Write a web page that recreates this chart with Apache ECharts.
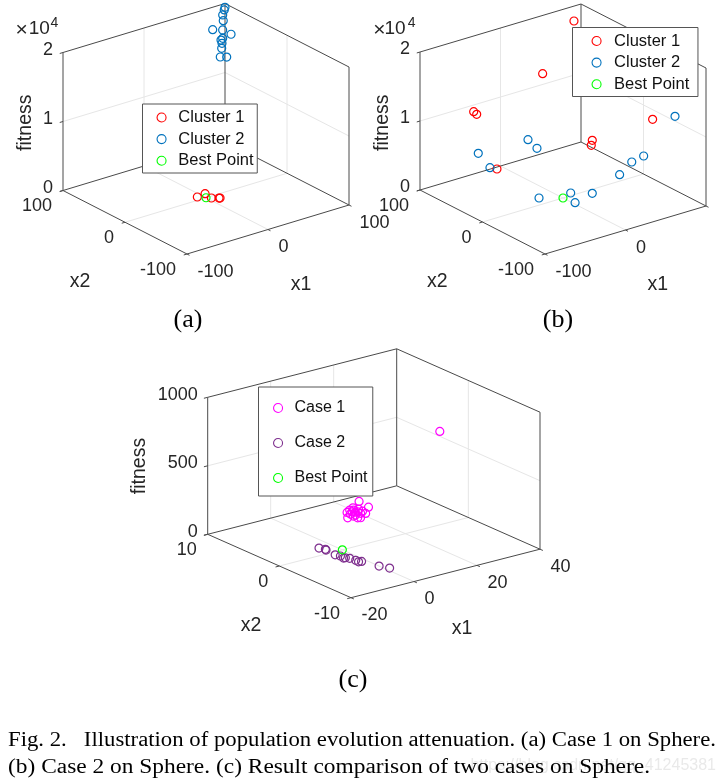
<!DOCTYPE html>
<html>
<head>
<meta charset="utf-8">
<style>html,body{margin:0;padding:0;background:#fff}#c{width:726px;height:782px}</style>
<script src="https://cdn.jsdelivr.net/npm/echarts@6/dist/echarts.min.js"></script>
</head>
<body>
<div id="c"></div>
<script>
// ---- Data: [x1, x2, fitness] ----
const aCluster1 = [[-7.7,3.9,200],[3.3,5.8,200],[1.7,-6.5,200],[7.6,-11.1,200],[8.4,-11.7,200]];
const aCluster2 = [[100,100,19450],[96,96,19390],[89.5,90,19170],[90.2,90,18320],[69.5,80,18210],[81.8,80,17730],[99.8,90,16010],[74.2,70,17250],[72.1,70,17070],[81,80,15830],[80.6,80,15120],[71.2,70,14650],[86.8,80,13630]];
const aBest = [[0,0,0]];
const bCluster1 = [[79,84.2,19000],[26.5,66.7,14000],[-54.2,73.1,11000],[-55.8,66.2,11000],[-39.1,55.3,3000],[79.7,55.8,3000],[76.5,53.3,2500],[95.8,-20,9000]];
const bCluster2 = [[9,67.6,5000],[8.2,52.2,4500],[-50.9,70,5000],[-42.6,62,3000],[-29.4,0.5,1000],[3.1,-8.3,1000],[-3,-23.2,500],[19.6,-21.6,1000],[59,-14.6,2000],[82.7,-3.5,2500],[96,-5.4,3000],[86.2,-68.2,12000]];
const bBest = [[0,0,0]];
const cCase1 = [[16,4.7,150],[15.3,3.08,150],[6.3,2.02,150],[8.6,3.12,150],[11.9,3.75,150],[9.9,2.98,150],[11,2.7,150],[10.9,2.24,150],[11.9,1.98,150],[8.3,1.51,150],[8.9,1.37,150],[9.1,2.16,150],[10.2,3.46,150],[11,3.26,150],[10.4,2.75,150],[12.4,3.2,150],[12.3,2.59,150],[8.5,2.62,150],[8.2,2.07,150],[29.8,-0.5,700]];
const cCase2 = [[-4.2,1.41,5],[-3.5,0.83,5],[-3.7,0.65,5],[-4,-0.76,5],[-3.5,-1.27,5],[-3.8,-1.84,5],[-3.3,-1.87,5],[-2.7,-2.21,5],[-2.4,-2.92,5],[-2.5,-3.36,5],[-1.7,-3.43,5],[-0.3,-5.26,5],[0.9,-6.2,5]];
const cBest = [[0,0,0]];

// ---- Tick values and labels ----
const abX1Ticks = [-100,0,100], abX2Ticks = [-100,0,100], abFitTicks = [0,10000,20000];
const cX1Ticks = [-20,0,20,40], cX2Ticks = [-10,0,10], cFitTicks = [0,500,1000];
const aX1Labels = ['-100','0','100'], bX1Labels = ['-100','0'], abX2Labels = ['-100','0','100'], abFitLabels = ['0','1','2'];
const cX1Labels = ['-20','0','20','40'], cX2Labels = ['-10','0','10'], cFitLabels = ['0','500','1000'];
const captionLine1 = 'Fig. 2.   Illustration of population evolution attenuation. (a) Case 1 on Sphere.';
const captionLine2 = '(b) Case 2 on Sphere. (c) Result comparison of two cases on Sphere.';
const watermark = 'https://blog.csdn.net/qq_41245381';

// ---- Views (orthographic view of each 3D box) ----
const SANS = '"Liberation Sans", Arial, sans-serif', SERIF = '"Liberation Serif", "Times New Roman", serif';
const viewA = {F:[187,254],ex:[162,-49],ey:[-124,-63.5],h:138,x1:[-100,100],x2:[-100,100],z:[0,20000],
  x1T:abX1Ticks,x2T:abX2Ticks,zT:abFitTicks,x1L:aX1Labels,x2L:abX2Labels,zL:abFitLabels,
  fit:[26,122.7],nx2:[80,281.7],nx1:[301,285],tag:'(a)',tagPos:[188,320],mult:[21.7,39.3,54.3]};
const viewB = {F:[545,254],ex:[161,-48],ey:[-125,-64],h:138,x1:[-100,100],x2:[-100,100],z:[0,20000],
  x1T:abX1Ticks,x2T:abX2Ticks,zT:abFitTicks,x1L:bX1Labels,x2L:abX2Labels,zL:abFitLabels,
  fit:[382.7,122.7],nx2:[437.3,281.7],nx1:[657.7,285],tag:'(b)',tagPos:[558,320],mult:[379.3,395,411.7]};
const viewC = {F:[351,597.7],ex:[189,-48.5],ey:[-143.3,-63.4],h:137,x1:[-20,40],x2:[-10,10],z:[0,1000],
  x1T:cX1Ticks,x2T:cX2Ticks,zT:cFitTicks,x1L:cX1Labels,x2L:cX2Labels,zL:cFitLabels,
  fit:[139.3,466],nx2:[251,625.7],nx1:[462,629],tag:'(c)',tagPos:[353,680]};

function project(v, p) {
  const u=(p[0]-v.x1[0])/(v.x1[1]-v.x1[0]), w=(p[1]-v.x2[0])/(v.x2[1]-v.x2[0]), t=(p[2]-v.z[0])/(v.z[1]-v.z[0]);
  return [v.F[0]+u*v.ex[0]+w*v.ey[0], v.F[1]+u*v.ex[1]+w*v.ey[1]-t*v.h];
}
const GAP = ['-','-'];
function seg(v,a,b,out){ out.push(project(v,a),project(v,b),GAP); }

function frameSeries(v) {
  const [a0,a1]=v.x1,[b0,b1]=v.x2,[c0,c1]=v.z, edges=[], grid=[];
  seg(v,[a0,b1,c0],[a0,b1,c1],edges); seg(v,[a1,b1,c0],[a1,b1,c1],edges); seg(v,[a1,b0,c0],[a1,b0,c1],edges);
  seg(v,[a0,b1,c1],[a1,b1,c1],edges); seg(v,[a1,b1,c1],[a1,b0,c1],edges);
  seg(v,[a0,b1,c0],[a1,b1,c0],edges); seg(v,[a1,b1,c0],[a1,b0,c0],edges);
  seg(v,[a0,b0,c0],[a1,b0,c0],edges); seg(v,[a0,b0,c0],[a0,b1,c0],edges);
  const da=(a1-a0)*0.02, db=(b1-b0)*0.02;
  v.x1T.forEach(t=>{ seg(v,[t,b0,c0],[t,b0-db,c0],edges);
    if(t>a0&&t<a1){ seg(v,[t,b0,c0],[t,b1,c0],grid); seg(v,[t,b1,c0],[t,b1,c1],grid);} });
  v.x2T.forEach(t=>{ seg(v,[a0,t,c0],[a0-da,t,c0],edges);
    if(t>b0&&t<b1){ seg(v,[a0,t,c0],[a1,t,c0],grid); seg(v,[a1,t,c0],[a1,t,c1],grid);} });
  v.zT.forEach(t=>{ seg(v,[a0,b1,t],[a0-da,b1,t],edges);
    if(t>c0&&t<c1){ seg(v,[a0,b1,t],[a1,b1,t],grid); seg(v,[a1,b1,t],[a1,b0,t],grid);} });
  const mk=(d,c,z)=>({type:'line',data:d,showSymbol:false,silent:true,animation:false,z,connectNulls:false,
    lineStyle:{color:c,width:1},itemStyle:{color:c}});
  return [mk(grid,'#e6e6e6',1),mk(edges,'#4a4a4a',2)];
}
function pts(name,v,d,color,z){
  return {type:'scatter',name,data:d.map(p=>project(v,p)),symbol:'circle',symbolSize:8,silent:true,animation:false,z:z||3,
    itemStyle:{color:'rgba(0,0,0,0)',borderColor:color,borderWidth:1.2,opacity:1}};
}
function txt(s,x,y,font,opt){
  const o=opt||{};
  return {type:'text',x,y,rotation:o.rot||0,scaleX:o.sx||1,silent:true,z:o.z||6,
    style:{text:s,font,fill:o.fill||'#262626',textAlign:o.align||'center',textVerticalAlign:'middle'}};
}
function viewText(v){
  const out=[], T='18px '+SANS, N='19.5px '+SANS;
  v.zL.forEach((s,i)=>{const p=project(v,[v.x1[0],v.x2[1],v.zT[i]]); out.push(txt(s,p[0]-10,p[1]-2.7,T,{align:'right'}));});
  v.x2L.forEach((s,i)=>{const p=project(v,[v.x1[0],v.x2T[i],v.z[0]]); out.push(txt(s,p[0]-11,p[1]+16,T,{align:'right'}));});
  v.x1L.forEach((s,i)=>{const p=project(v,[v.x1T[i],v.x2[0],v.z[0]]); out.push(txt(s,p[0]+10.5,p[1]+17.7,T,{align:'left'}));});
  out.push(txt('fitness',v.fit[0],v.fit[1],N,{rot:Math.PI/2}));
  out.push(txt('x2',v.nx2[0],v.nx2[1],N), txt('x1',v.nx1[0],v.nx1[1],N));
  out.push(txt(v.tag,v.tagPos[0],v.tagPos[1],'26px '+SERIF,{fill:'#000'}));
  if(v.mult){
    out.push(txt('\u00d7',v.mult[0],30.7,'21px '+SANS));
    out.push(txt('10',v.mult[1],28.3,'19px '+SANS));
    out.push(txt('4',v.mult[2],22.7,'14px '+SANS));
  }
  return out;
}
const RED='#ff0000',BLUE='#0072bd',GREEN='#00ff00',MAG='#ff00ff',PUR='#7e2f8e';
function leg(names,left,top,padding,gap,textGap,size){
  return {show:true,orient:'vertical',left,top,data:names,padding,itemWidth:9,itemHeight:9,itemGap:gap,
    icon:'circle',selectedMode:false,backgroundColor:'#fff',borderColor:'#555',borderWidth:1,borderRadius:0,
    itemStyle:{color:'rgba(0,0,0,0)',borderWidth:1.1},
    inactiveColor:'#ccc',z:5,
    textStyle:{color:'#111',fontFamily:SANS,fontSize:size,lineHeight:16,padding:[0,0,0,textGap-5]}};
}
const CLUSTERS=['Cluster 1','Cluster 2','Best Point'], CASES=['Case 1','Case 2','Best Point'];
const chart=echarts.init(document.getElementById('c'),null,{renderer:'canvas'});
chart.setOption({
  animation:false,backgroundColor:'#fff',
  grid:{left:0,right:0,top:0,bottom:0},
  xAxis:{type:'value',min:0,max:726,show:false},
  yAxis:{type:'value',min:0,max:782,inverse:true,show:false},
  tooltip:{show:false},
  legend:[
    leg(CLUSTERS,142.5,104,[5,3.7,3.8,14],4.6,12.3,16.5),
    leg(CLUSTERS,572.5,27.5,[5,8.7,3.8,19],4.6,13,16.5),
    leg(CASES,258.5,387,[13,5.3,10,14.5],19,12,16)
  ],
  series:[
    ...frameSeries(viewA),...frameSeries(viewB),...frameSeries(viewC),
    pts('Cluster 1',viewA,aCluster1,RED),pts('Cluster 2',viewA,aCluster2,BLUE),pts('Best Point',viewA,aBest,GREEN),
    pts('Cluster 1',viewB,bCluster1,RED),pts('Cluster 2',viewB,bCluster2,BLUE),pts('Best Point',viewB,bBest,GREEN),
    pts('Case 1',viewC,cCase1,MAG),pts('Case 2',viewC,cCase2,PUR),pts('Best Point',viewC,cBest,GREEN)
  ],
  graphic:{elements:[
    ...viewText(viewA),...viewText(viewB),...viewText(viewC),
    txt(watermark,716,766,'16px '+SANS,{align:'right',fill:'rgba(200,200,200,0.4)',z:5}),
    txt(captionLine1,8,741,'20px '+SERIF,{align:'left',fill:'#000',sx:1.137}),
    txt(captionLine2,8,767.5,'20px '+SERIF,{align:'left',fill:'#000',sx:1.17})
  ]}
});
</script>
</body>
</html>
